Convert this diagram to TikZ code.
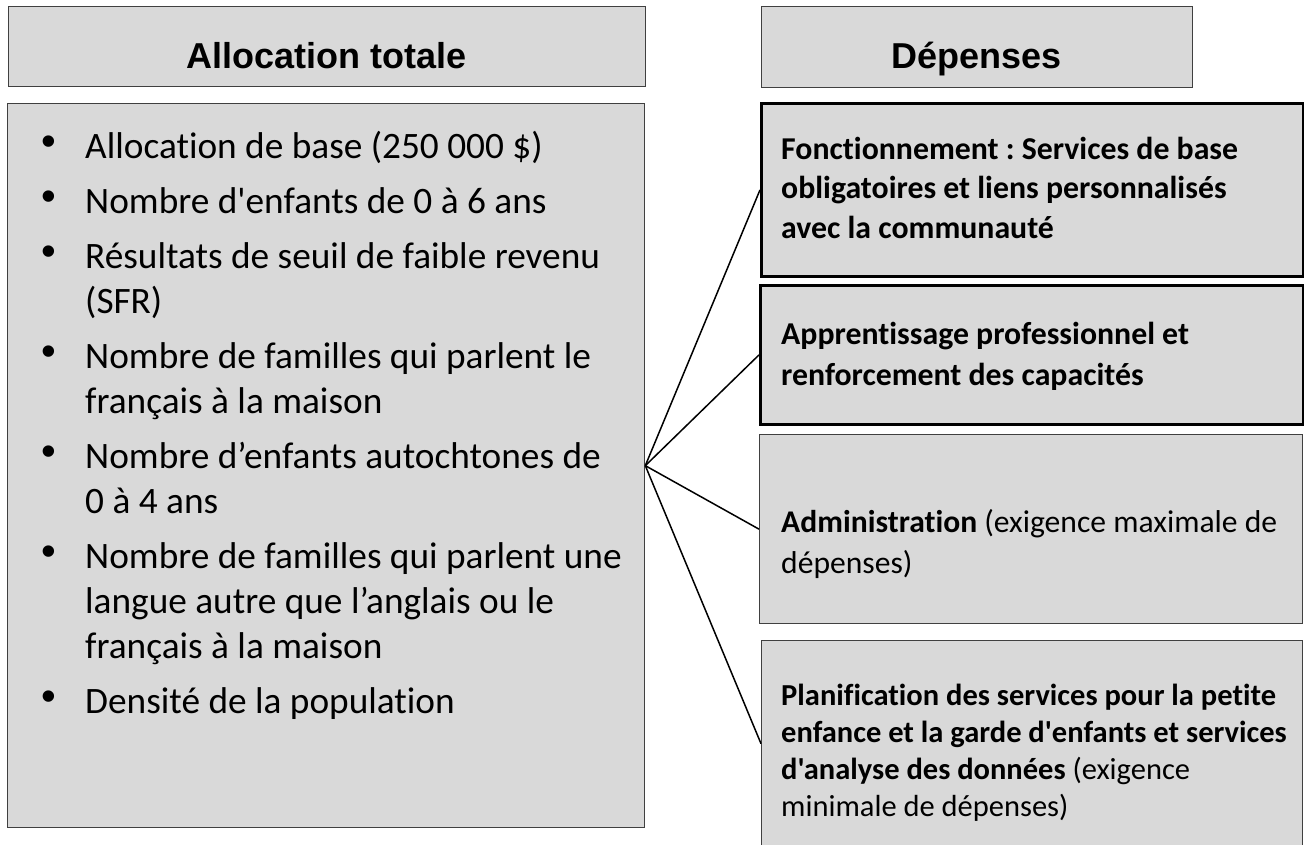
\documentclass[tikz,border=0pt]{standalone}
\usepackage{fontspec}
\setmainfont{Carlito}[Ligatures={TeXOff,NoCommon}]
\newfontfamily\titlefont{Liberation Sans}
\definecolor{boxgray}{HTML}{D9D9D9}
\definecolor{edgegray}{HTML}{404040}
\newcommand\bulitem{\leavevmode\llap{\raisebox{3pt}{\titlefont\fontsize{42}{45}\selectfont •}\hspace{29pt}}}
\frenchspacing
\begin{document}
\begin{tikzpicture}[x=1pt,y=-1pt,
  panel/.style={draw=edgegray, line width=1.3pt, fill=boxgray, rectangle, anchor=north west, inner sep=0pt},
  heavypanel/.style={panel, draw=black, line width=2.8pt},
  titletext/.style={font=\titlefont\bfseries\fontsize{36}{43}\selectfont, anchor=base, inner sep=0pt},
  bodytext/.style={anchor=base west, inner sep=0pt},
  link/.style={draw=black, line width=1.5pt}]
\useasboundingbox (0,0) rectangle (1304,844);
\clip (0,0) rectangle (1304,844);

% titles
\node[panel, minimum width=637pt, minimum height=80pt] (titleA) at (8,6) {};
\node[titletext] (titleAtext) at (326.5,68) {Allocation totale};
\node[panel, minimum width=431pt, minimum height=81pt] (titleB) at (761,6) {};
\node[titletext] (titleBtext) at (976.5,68) {Dépenses};

% left box
\node[panel, minimum width=637pt, minimum height=724pt] (alloc) at (7,103) {};
\node[bodytext] (allocitems) at (85,158) {\parbox[t]{545pt}{\raggedright\fontsize{37.3}{45}\selectfont
\bulitem Allocation de base (250~000~\$)\par\vspace{10pt}
\bulitem Nombre d'enfants de 0 à 6 ans\par\vspace{10pt}
\bulitem Résultats de seuil de faible revenu\\(SFR)\par\vspace{10pt}
\bulitem Nombre de familles qui parlent le\\français à la maison\par\vspace{10pt}
\bulitem Nombre d’enfants autochtones de\\0 à 4 ans\par\vspace{10pt}
\bulitem Nombre de familles qui parlent une\\langue autre que l’anglais ou le\\français à la maison\par\vspace{10pt}
\bulitem Densité de la population}};

% right boxes
\node[heavypanel, minimum width=542pt, minimum height=173pt] (fonct) at (760,102) {};
\node[bodytext] (fonctText) at (781,159) {\parbox[t]{515pt}{\raggedright\fontsize{31.8}{39.5}\selectfont\bfseries
Fonctionnement : Services de base\\obligatoires et liens personnalisés\\avec la communauté}};

\node[heavypanel, minimum width=543pt, minimum height=139pt] (appr) at (759,284) {};
\node[bodytext] (apprText) at (781,344) {\parbox[t]{515pt}{\raggedright\fontsize{31.8}{41}\selectfont\bfseries
Apprentissage professionnel et\\renforcement des capacités}};

\node[panel, minimum width=543pt, minimum height=189pt] (admin) at (759,434) {};
\node[bodytext] (adminText) at (781,532) {\parbox[t]{515pt}{\raggedright\fontsize{31.6}{41}\selectfont
{\bfseries Administration} (exigence maximale de\\dépenses)}};

\node[panel, minimum width=541pt, minimum height=206pt] (plan) at (761,640) {};
\node[bodytext] (planText) at (781,705) {\parbox[t]{515pt}{\raggedright\fontsize{30.5}{37}\selectfont
{\bfseries Planification des services pour la petite\\enfance et la garde d'enfants et services\\d'analyse des données} (exigence\\minimale de dépenses)}};

% connectors
\draw[link] (alloc.east) -- (fonct.west);
\draw[link] (alloc.east) -- (appr.west);
\draw[link] (alloc.east) -- (admin.west);
\draw[link] (alloc.east) -- (plan.west);
\end{tikzpicture}
\end{document}
